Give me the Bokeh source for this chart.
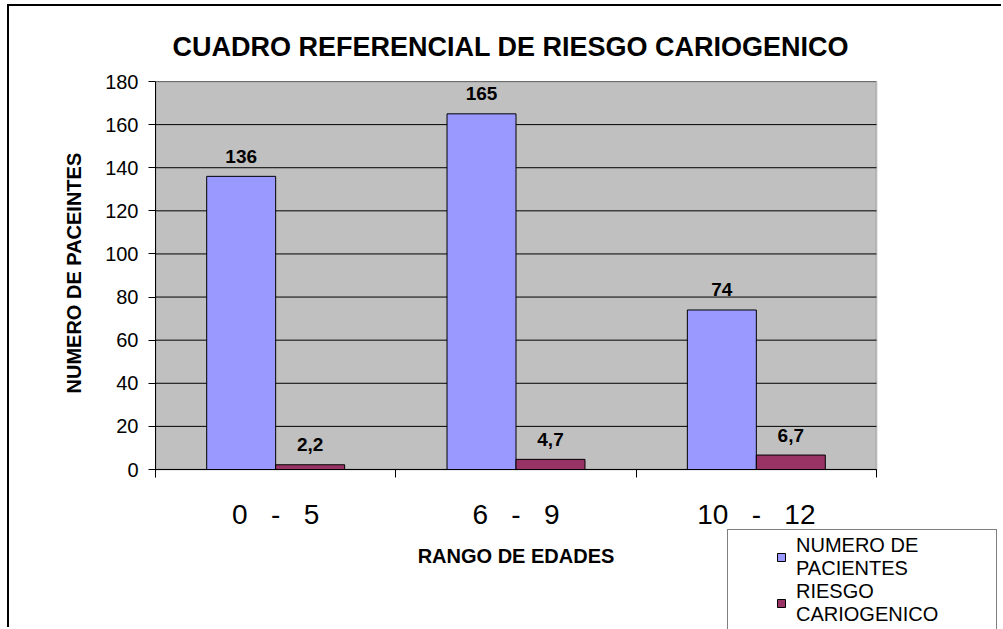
from bokeh.plotting import figure
from bokeh.models import (Range1d, FixedTicker, ColumnDataSource, Legend, LegendItem,
                          BoxAnnotation, Title)
from bokeh.transform import dodge
from bokeh.core.properties import value
from bokeh.embed import file_html
from bokeh.resources import INLINE

# ---- data ----
NB = "\u00a0\u00a0\u00a0"
categories = ["0" + NB + "-" + NB + "5", "6" + NB + "-" + NB + "9", "10" + NB + "-" + NB + "12"]
pacientes = [136, 165, 74]
riesgo = [2.2, 4.7, 6.7]
series_names = ["NUMERO DE\nPACIENTES", "RIESGO\nCARIOGENICO"]
y_ticks = [0, 20, 40, 60, 80, 100, 120, 140, 160, 180]

title = "CUADRO REFERENCIAL DE RIESGO CARIOGENICO"
x_label = "RANGO DE EDADES"
y_label = "NUMERO DE PACEINTES"

BLUE = "#9999FF"
RED = "#993366"
GRAY = "#C0C0C0"
FONT = "Liberation Sans"

def fmt(v):
    return ("%g" % v).replace(".", ",")

ncat = len(categories)
y_max = y_ticks[-1]
xc = [i + 0.5 for i in range(ncat)]
src = ColumnDataSource(dict(
    xc=xc,
    pacientes=pacientes,
    riesgo=riesgo,
    lab_p=[fmt(v) for v in pacientes],
    lab_r=[fmt(v) for v in riesgo],
))

# ---- layout (page pixels) ----
OX, OY = 9, 6                 # figure offset on the page (room for the chart border)
W, H = 1003 - OX, 629 - OY
PL, PR, PT, PB = 155 - OX, 876 - OX, 81 - OY, 469 - OY   # grey area edges in figure px
# the frame runs from PL to the right edge and from PT to the bottom edge, so
# that the legend and the axis texts (drawn inside it) are not clipped
px_x = (PR - PL) / ncat
px_y = (PB - PT) / y_max
x_end = (W - PL) / px_x
y_start = y_max - (H - PT) / px_y

p = figure(width=W, height=H, output_backend="svg", toolbar_location=None,
           x_range=Range1d(0, x_end), y_range=Range1d(y_start, y_max),
           min_border_left=PL, min_border_right=0, min_border_top=PT,
           min_border_bottom=0)
# chart border (left and top edges visible in the window)
p.styles = {"margin-left": "%dpx" % OX, "margin-top": "%dpx" % OY,
            "box-shadow": "-2px -2px 0px 0px black"}

p.background_fill_color = "white"
p.border_fill_color = "white"
p.outline_line_color = None
p.xgrid.grid_line_color = None
p.ygrid.grid_line_color = None

# grey plotting area
p.add_layout(BoxAnnotation(left=0, right=ncat, bottom=0, top=y_max,
                           fill_color=GRAY, fill_alpha=1,
                           line_color="#666666", line_width=2, level="image"))

# title
p.title.text = title
p.title.text_font = FONT
p.title.text_font_size = "27px"
p.title.text_font_style = "bold"
p.title.align = "left"
p.title.offset = 17
p.title.standoff = 40
p.title.text_color = "black"

# horizontal grid lines across the grey area
p.segment(x0=0, x1=ncat, y0=y_ticks, y1=y_ticks, line_color="black", line_width=1)

bw = 0.287
r1 = p.vbar(x=dodge("xc", -bw / 2, range=p.x_range), top="pacientes", width=bw,
            source=src, fill_color=BLUE, line_color="black", line_width=1)
r2 = p.vbar(x=dodge("xc", bw / 2, range=p.x_range), top="riesgo", width=bw,
            source=src, fill_color=RED, line_color="black", line_width=1)

for col, lab, dx in (("pacientes", "lab_p", -bw / 2), ("riesgo", "lab_r", bw / 2)):
    p.text(x=dodge("xc", dx, range=p.x_range), y=col, text=lab, source=src,
           text_font=value(FONT), text_font_size="19px", text_font_style="bold",
           text_align="center", text_baseline="alphabetic", y_offset=-20,
           text_color="black")

# y axis
p.yaxis.ticker = FixedTicker(ticks=y_ticks)
p.yaxis.bounds = (-8 / px_y, y_max)
p.yaxis.major_label_text_font = FONT
p.yaxis.major_label_text_font_size = "20px"
p.yaxis.major_label_standoff = 10
p.yaxis.major_tick_in = 0
p.yaxis.major_tick_out = 7
p.yaxis.minor_tick_line_color = None
p.yaxis.axis_line_color = "black"
p.yaxis.major_tick_line_color = "black"
p.yaxis.major_label_text_color = "black"

# y axis title, centred on the grey area (not on the taller frame)
ytitle = Title(text=y_label, align="left", offset=(H - PB) + 76, standoff=36,
               text_font=FONT, text_font_size="20px", text_font_style="bold",
               text_color="black")
p.add_layout(ytitle, "left")

# x axis at y = 0: ticks at category boundaries (minor), labels at centres (major)
p.xaxis.fixed_location = 0
p.xaxis.bounds = (-7 / px_x, ncat)
p.xaxis.ticker = FixedTicker(ticks=xc, minor_ticks=list(range(ncat + 1)))
p.xaxis.major_label_overrides = {x: c for x, c in zip(xc, categories)}
p.xaxis.major_tick_line_color = None
p.xaxis.minor_tick_line_color = "black"
p.xaxis.minor_tick_in = 0
p.xaxis.minor_tick_out = 8
p.xaxis.major_tick_out = 8
p.xaxis.major_tick_in = 0
p.xaxis.major_label_text_font = FONT
p.xaxis.major_label_text_font_size = "28px"
p.xaxis.major_label_standoff = 21
p.xaxis.major_label_text_color = "black"
p.xaxis.axis_label = x_label
p.xaxis.axis_label_text_font = FONT
p.xaxis.axis_label_text_font_size = "20px"
p.xaxis.axis_label_text_font_style = "bold"
p.xaxis.axis_label_text_color = "black"
p.xaxis.axis_label_standoff = 12
p.xaxis.axis_line_color = "black"

# legend at the bottom right
legend = Legend(items=[LegendItem(label=series_names[0], renderers=[r1]),
                       LegendItem(label=series_names[1], renderers=[r2])],
                location=(727 - 155, -2))
legend.label_text_font = FONT
legend.label_text_font_size = "20px"
legend.label_text_line_height = 1.2
legend.label_text_color = "black"
legend.label_standoff = 10
legend.glyph_width = 10
legend.glyph_height = 10
legend.padding = 4
legend.spacing = -4
legend.margin = 0
legend.label_width = 196
legend.title = "\u00a0"
legend.title_location = "left"
legend.title_text_font_size = "10px"
legend.title_standoff = 33
legend.border_line_color = "black"
legend.border_line_width = 1
legend.background_fill_color = "white"
legend.background_fill_alpha = 1
p.add_layout(legend, "center")

open("out.html", "w").write(file_html(p, INLINE))
